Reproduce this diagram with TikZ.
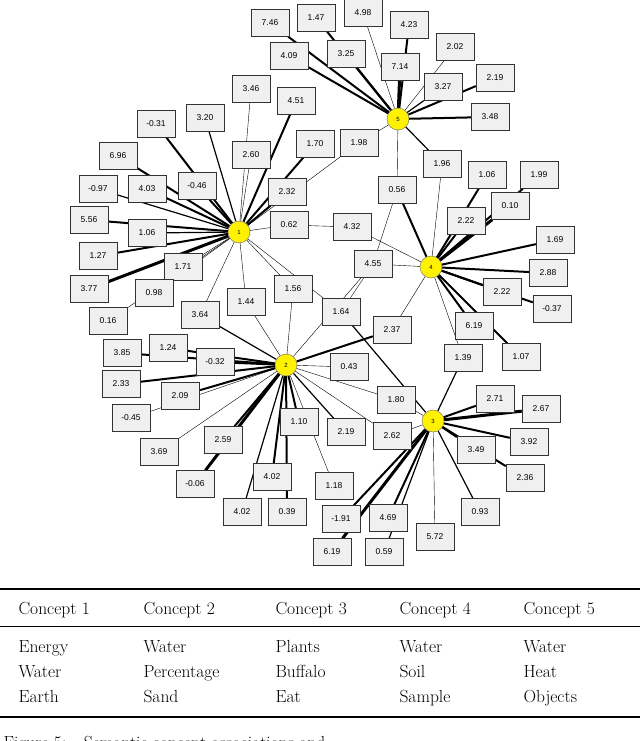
\documentclass[tikz,border=0pt]{standalone}
\usepackage{fontspec}
\newfontfamily\boxfont{Liberation Sans}
\usetikzlibrary{backgrounds}
\begin{document}
\begin{tikzpicture}[x=1pt,y=-1pt,
  bx/.style={draw=black!80,fill=black!6,minimum width=38pt,minimum height=27pt,inner sep=0pt,font=\boxfont\fontsize{8.5}{9}\selectfont},
  hub/.style={circle,draw=black!60,fill=yellow,minimum size=22pt,inner sep=0pt,font=\boxfont\fontsize{6}{6}\selectfont},
  e0/.style={line width=0.4pt},
  e1/.style={line width=1.2pt},
  e2/.style={line width=2pt},
  e3/.style={line width=3pt},
  hd/.style={anchor=base west,font=\fontsize{17.5}{18}\selectfont}]
\useasboundingbox (0,0) rectangle (640,741);
\clip (0,0) rectangle (640,741);
\foreach \n/\x/\y/\t in {
a1/270/23/7.46, a2/316/18/1.47, a3/363/13/4.98, a4/409/25/4.23, a5/455/47/2.02,
a6/289/56/4.09, a7/346/54/3.25, a8/400/67/7.14, a9/443/87/3.27, a10/495/78/2.19,
a11/490/117/3.48, a12/359/143/1.98, a13/442/164/1.96, a14/397/190/0.56,
b1/251/89/3.46, b2/296/101/4.51, b3/205/118/3.20, b4/156/124/-0.31, b5/251/155/2.60,
b6/315/144/1.70, b7/118/156/6.96, b8/147/189/4.03, b9/197/186/-0.46, b10/98/189/-0.97,
b11/287/192/2.32, b12/89/220/5.56, b13/147/233/1.06, b14/289/225/0.62, b15/352/227/4.32,
b16/98/256/1.27, b17/89/289/3.77, b18/183/267/1.71, b19/154/293/0.98, b20/108/321/0.16,
b21/200/315/3.64, b22/246/302/1.44, b23/293/289/1.56, b24/341/312/1.64,
d1/373/264/4.55, d2/487/175/1.06, d3/539/175/1.99, d4/466/221/2.22, d5/510/206/0.10,
d6/555/240/1.69, d7/548/273/2.88, d8/502/292/2.22, d9/552/309/-0.37, d10/474/326/6.19,
d11/521/357/1.07, d12/463/358/1.39, d13/392/330/2.37,
c1/349/367/0.43, c2/396/400/1.80, c3/392/436/2.62, c4/168/348/1.24, c5/122/353/3.85,
c6/215/362/-0.32, c7/121/384/2.33, c8/180/396/2.09, c9/131/418/-0.45, c10/159/452/3.69,
c11/223/440/2.59, c12/195/484/-0.06, c13/299/422/1.10, c14/272/477/4.02, c15/242/512/4.02,
c16/287/512/0.39, c17/346/432/2.19, c18/334/486/1.18,
f1/495/399/2.71, f2/541/409/2.67, f3/529/442/3.92, f4/476/450/3.49, f5/525/478/2.36,
f6/480/512/0.93, f7/435/537/5.72, f8/388/518/4.69, f9/384/552/0.59, f10/341/519/-1.91, f11/332/552/6.19}
  {\node[bx] (\n) at (\x,\y) {\t};}
\node[hub] (h1) at (239,232) {1};
\node[hub] (h2) at (286,365) {2};
\node[hub] (h3) at (433,421) {3};
\node[hub] (h4) at (431,267) {4};
\node[hub] (h5) at (398,119) {5};
\begin{scope}[on background layer]
\foreach \h/\b/\s in {
h5/a1/e2, h5/a2/e2, h5/a3/e0, h5/a4/e2, h5/a5/e0, h5/a6/e2, h5/a7/e2, h5/a8/e3, h5/a9/e1,
h5/a10/e2, h5/a11/e2, h5/a12/e0, h5/a13/e1, h5/a14/e0,
h1/b1/e0, h1/b2/e2, h1/b3/e1, h1/b4/e2, h1/b5/e0, h1/b6/e2, h1/b7/e2, h1/b8/e2, h1/b9/e2,
h1/b10/e1, h1/b11/e2, h1/a12/e0, h1/b12/e2, h1/b13/e1, h1/b14/e0, h1/b16/e2, h1/b17/e3,
h1/b18/e0, h1/b19/e0, h1/b20/e0, h1/b21/e0, h1/b22/e0, h1/b23/e0, h1/b24/e0,
h4/b15/e0, h4/a13/e0, h4/a14/e2, h4/d1/e0, h4/d2/e2, h4/d3/e2, h4/d4/e2, h4/d5/e3, h4/d6/e2,
h4/d7/e2, h4/d8/e2, h4/d9/e2, h4/d10/e2, h4/d11/e2, h4/d12/e0, h4/d13/e0,
h2/b21/e1, h2/b22/e0, h2/b23/e0, h2/d13/e2, h2/d1/e0, h2/c1/e0, h2/c2/e0, h2/c3/e0,
h2/c4/e2, h2/c5/e2, h2/c6/e2, h2/c7/e2, h2/c8/e2, h2/c9/e0, h2/c10/e0, h2/c11/e2, h2/c12/e3,
h2/c13/e2, h2/c14/e2, h2/c15/e1, h2/c16/e2, h2/c17/e1, h2/c18/e0,
h3/b24/e1, h3/c2/e0, h3/c3/e0, h3/d12/e1, h3/f1/e2, h3/f2/e3, h3/f3/e2, h3/f4/e2, h3/f5/e2,
h3/f6/e1, h3/f7/e0, h3/f8/e2, h3/f9/e1, h3/f10/e2, h3/f11/e3}
  {\draw[\s] (\h) -- (\b);}
\draw[e0] (b14) -- (b15);
\draw[e0] (a14) -- (d1);
\draw[e0] (b24) -- (d1);
\end{scope}
% table
\draw[line width=2.2pt] (0,589) -- (640,589);
\draw[line width=0.6pt] (0,626) -- (640,626);
\draw[line width=2.2pt] (0,717) -- (640,717);
\foreach \x/\a/\b/\c/\d in {15/Concept 1/Energy/Water/Earth, 140/Concept 2/Water/Percentage/Sand,
  272/Concept 3/Plants/Buffalo/Eat, 396/Concept 4/Water/Soil/Sample, 520/Concept 5/Water/Heat/Objects}{
  \node[hd] (t\x a) at (\x,614) {\a};
  \node[hd] (t\x b) at (\x,652) {\b};
  \node[hd] (t\x c) at (\x,677) {\c};
  \node[hd] (t\x d) at (\x,702) {\d};
}
\node[hd] (cap) at (0,748) {Figure 5:\quad Semantic concept associations and};
\end{tikzpicture}
\end{document}
